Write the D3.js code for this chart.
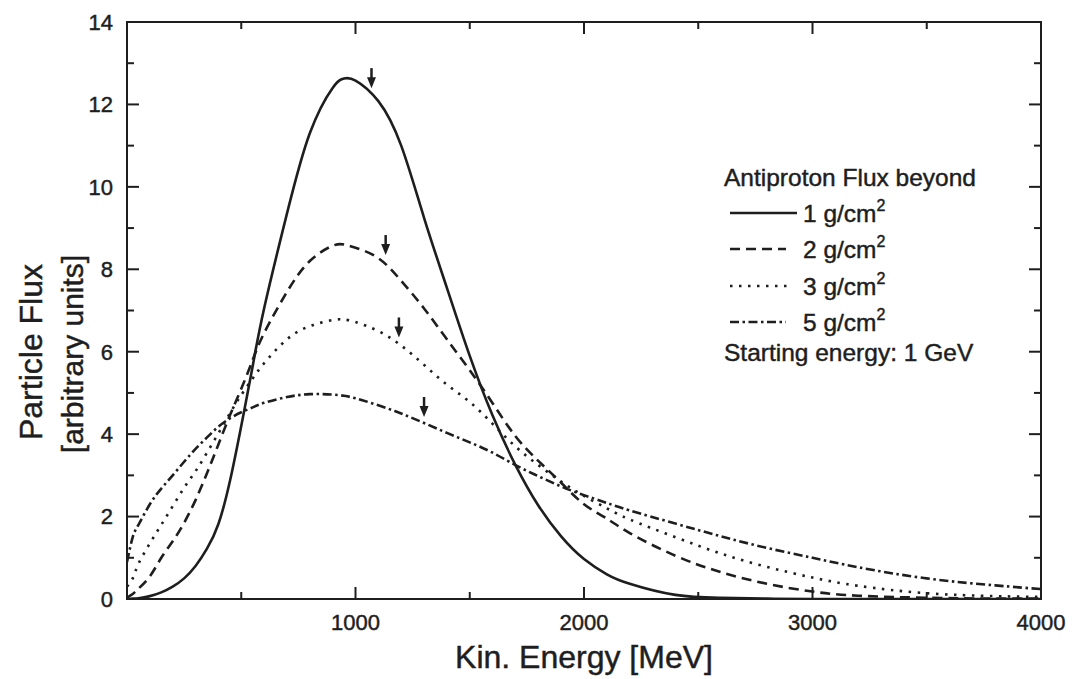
<!DOCTYPE html>
<html>
<head>
<meta charset="utf-8">
<script src="https://cdn.jsdelivr.net/npm/d3@7/dist/d3.min.js"></script>
<style>
  html, body { margin: 0; padding: 0; background: #fff; }
  svg { display: block; }
  text { font-family: "Liberation Sans", Arial, Helvetica, sans-serif; fill: #1e1e1e; stroke: #1e1e1e; stroke-width: 0.45px; }
</style>
</head>
<body>
<svg id="chart" width="1074" height="679"></svg>
<script>
// ---------------- data ----------------
const energy = [0, 25, 50, 100, 150, 200, 250, 300, 350, 400, 450, 500, 550, 600, 700, 800, 900, 950, 1000, 1100, 1200, 1300, 1400, 1500, 1600, 1700, 1800, 1900, 2000, 2100, 2200, 2400, 2600, 2800, 3000, 3200, 3500, 3800, 4000];
const flux1 = [0, 0.01, 0.02, 0.07, 0.16, 0.3, 0.5, 0.8, 1.22, 1.82, 2.85, 4.2, 5.65, 7.05, 9.35, 11.3, 12.4, 12.63, 12.58, 12.08, 11.0, 9.25, 7.55, 5.9, 4.45, 3.25, 2.27, 1.52, 0.97, 0.6, 0.37, 0.1, 0.03, 0.01, 0, 0, 0, 0, 0];
const flux2 = [0.03, 0.12, 0.25, 0.55, 1.0, 1.4, 1.85, 2.4, 3.05, 3.75, 4.45, 5.1, 5.8, 6.45, 7.45, 8.2, 8.57, 8.6, 8.52, 8.27, 7.72, 7.05, 6.3, 5.55, 4.75, 3.95, 3.35, 2.82, 2.3, 1.95, 1.6, 1.05, 0.65, 0.37, 0.18, 0.08, 0.03, 0.01, 0.01];
const flux3 = [0.3, 0.5, 0.85, 1.35, 1.8, 2.25, 2.7, 3.1, 3.55, 4.02, 4.5, 4.95, 5.35, 5.72, 6.3, 6.62, 6.77, 6.78, 6.72, 6.5, 6.15, 5.68, 5.2, 4.78, 4.25, 3.7, 3.25, 2.85, 2.5, 2.2, 1.93, 1.5, 1.1, 0.78, 0.52, 0.32, 0.14, 0.07, 0.05];
const flux5 = [0.9, 1.5, 1.8, 2.3, 2.68, 3.0, 3.33, 3.64, 3.92, 4.18, 4.38, 4.53, 4.65, 4.76, 4.9, 4.97, 4.96, 4.93, 4.87, 4.7, 4.5, 4.27, 4.03, 3.8, 3.55, 3.25, 2.98, 2.73, 2.52, 2.33, 2.15, 1.83, 1.52, 1.24, 1.0, 0.77, 0.5, 0.33, 0.24];

const seriesNames = ["1", "2", "3", "5"];
const seriesValues = [flux1, flux2, flux3, flux5];
// arrows marking each curve: energy (MeV) and curve value there
const arrowEnergy = [1070, 1132, 1190, 1300];
const arrowValue = [12.25, 8.2, 6.2, 4.27];

const xTicks = [1000, 2000, 3000, 4000];
const xMinorTicks = [500, 1000, 1500, 2000, 2500, 3000, 3500];
const yTicks = [0, 2, 4, 6, 8, 10, 12, 14];
const yMinorTicks = [1, 2, 3, 4, 5, 6, 7, 8, 9, 10, 11, 12, 13];

const xTitle = "Kin. Energy [MeV]";
const yTitle1 = "Particle Flux";
const yTitle2 = "[arbitrary units]";
const legendTitle = "Antiproton Flux beyond";
const legendUnit = " g/cm";
const legendNote = "Starting energy: 1 GeV";

// ---------------- layout & styles ----------------
const svg = d3.select("#chart");
const L = 127, R = 1041, T = 22, B = 599;
const ink = "#1e1e1e";
const dashes = [null, "10,6", "2.5,6.5", "9,3.5,2.5,3.5"];

const x = d3.scaleLinear().domain([0, 4000]).range([L, R]);
const y = d3.scaleLinear().domain([0, 14]).range([B, T]);

svg.append("defs").append("clipPath").attr("id", "plotClip")
  .append("rect").attr("x", L).attr("y", T).attr("width", R - L).attr("height", B - T);

// curves
const line = d3.line()
  .x(d => x(d[0])).y(d => y(d[1]))
  .curve(d3.curveNatural);
const cg = svg.append("g").attr("clip-path", "url(#plotClip)");
seriesValues.forEach((vals, i) => {
  cg.append("path")
    .datum(energy.map((e, k) => [e, vals[k]]))
    .attr("d", line)
    .attr("fill", "none").attr("stroke", ink)
    .attr("stroke-width", 2.6)
    .attr("stroke-dasharray", dashes[i])
    .attr("stroke-linecap", "butt");
});

// frame
svg.append("rect")
  .attr("x", L).attr("y", T).attr("width", R - L).attr("height", B - T)
  .attr("fill", "none").attr("stroke", ink).attr("stroke-width", 2);

// ticks (inward on all four sides)
const major = 12, minor = 7;
const tg = svg.append("g").attr("stroke", ink).attr("stroke-width", 2);
xMinorTicks.forEach(v => {
  const len = xTicks.includes(v) ? major : minor;
  tg.append("line").attr("x1", x(v)).attr("x2", x(v)).attr("y1", B).attr("y2", B - len);
  tg.append("line").attr("x1", x(v)).attr("x2", x(v)).attr("y1", T).attr("y2", T + len);
});
yMinorTicks.forEach(v => {
  const len = yTicks.includes(v) ? major : minor;
  tg.append("line").attr("y1", y(v)).attr("y2", y(v)).attr("x1", L).attr("x2", L + len);
  tg.append("line").attr("y1", y(v)).attr("y2", y(v)).attr("x1", R).attr("x2", R - len);
});

// tick labels
svg.append("g").selectAll("text").data(yTicks).join("text")
  .attr("x", L - 14).attr("y", d => y(d)).attr("dy", "0.36em")
  .attr("text-anchor", "end").attr("font-size", 22).text(d => d);
svg.append("g").selectAll("text").data(xTicks).join("text")
  .attr("x", d => x(d)).attr("y", B + 31)
  .attr("text-anchor", "middle").attr("font-size", 22).text(d => d);

// axis titles
svg.append("text").attr("x", (L + R) / 2).attr("y", 668)
  .attr("text-anchor", "middle").attr("font-size", 32).text(xTitle);
svg.append("text").attr("transform", "translate(42,352) rotate(-90)")
  .attr("text-anchor", "middle").attr("font-size", 32).text(yTitle1);
svg.append("text").attr("transform", "translate(83,354) rotate(-90)")
  .attr("text-anchor", "middle").attr("font-size", 30).text(yTitle2);

// arrows
arrowEnergy.forEach((e, i) => {
  const ax = x(e), tip = y(arrowValue[i]) - 6;
  svg.append("line").attr("x1", ax).attr("x2", ax).attr("y1", tip - 20).attr("y2", tip - 8)
    .attr("stroke", ink).attr("stroke-width", 2.5);
  svg.append("path")
    .attr("d", `M${ax - 4.5},${tip - 11} L${ax + 4.5},${tip - 11} L${ax},${tip} Z`)
    .attr("fill", ink);
});

// legend
const lg = svg.append("g");
lg.append("text").attr("x", 724).attr("y", 186).attr("font-size", 24.5).text(legendTitle);
const rowY = [213, 249, 286, 322];
const lineEnd = [797, 786, 789, 786];
seriesNames.forEach((n, i) => {
  lg.append("line").attr("x1", 730).attr("x2", lineEnd[i]).attr("y1", rowY[i]).attr("y2", rowY[i])
    .attr("stroke", ink).attr("stroke-width", 2.4).attr("stroke-dasharray", dashes[i]);
  const t = lg.append("text").attr("x", 803).attr("y", rowY[i] + 9).attr("font-size", 24.5);
  t.append("tspan").text(n + legendUnit);
  t.append("tspan").attr("font-size", 16).attr("dy", -11).text("2");
});
lg.append("text").attr("x", 724).attr("y", 361).attr("font-size", 24.5).text(legendNote);
</script>
</body>
</html>
